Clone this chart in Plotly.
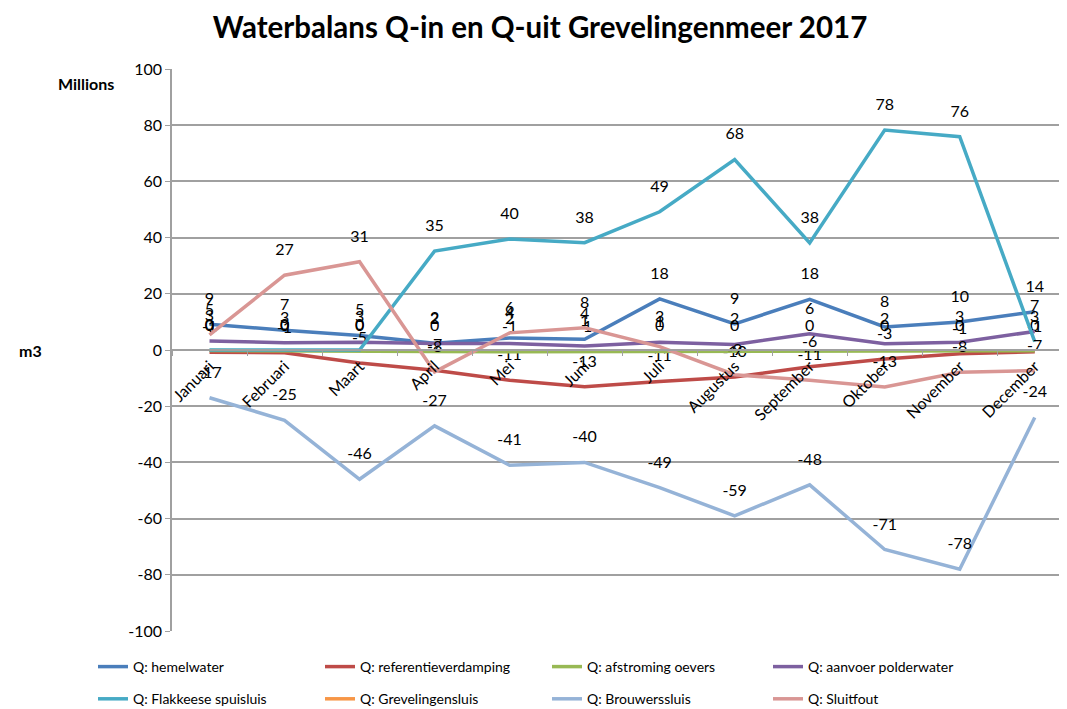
import plotly.graph_objects as go

months = ["Januari", "Februari", "Maart", "April", "Mei", "Juni", "Juli",
          "Augustus", "September", "Oktober", "November", "December"]

hemelwater = [9.2, 7.0, 5.2, 2.4, 4.3, 3.8, 18.2, 9.3, 18.0, 8.2, 10.0, 13.6]
referentieverdamping = [-0.8, -1.0, -4.6, -7.2, -10.8, -13.1, -11.2, -9.6, -6.0, -3.2, -1.3, -0.6]
afstroming_oevers = [-0.2, -0.2, -0.3, -0.5, -0.6, -0.6, -0.5, -0.5, -0.4, -0.4, -0.4, -0.3]
aanvoer_polderwater = [3.2, 2.6, 2.8, 2.3, 2.3, 1.4, 2.8, 2.0, 5.8, 2.2, 2.8, 6.6]
flakkeese_spuisluis = [0, 0, 0, 35.2, 39.5, 38.2, 49.2, 67.8, 38.1, 78.3, 75.9, 3.0]
grevelingensluis = [None] * 12
brouwerssluis = [-17, -25, -46, -27, -41, -40, -49, -59, -48, -71, -78, -24]
sluitfout = [5.4, 26.6, 31.4, -7.8, 6.1, 7.9, 1.2, -8.8, -10.8, -13.2, -7.9, -7.3]

y_tickvals = [-100, -80, -60, -40, -20, 0, 20, 40, 60, 80, 100]
y_ticktext = ["-100", "-80", "-60", "-40", "-20", "0", "20", "40", "60", "80", "100"]

series = [
    ("Q: hemelwater", hemelwater, "#4A7EBB", "legend"),
    ("Q: referentieverdamping", referentieverdamping, "#BE4B48", "legend2"),
    ("Q: afstroming oevers", afstroming_oevers, "#98B954", "legend3"),
    ("Q: aanvoer polderwater", aanvoer_polderwater, "#7D60A0", "legend4"),
    ("Q: Flakkeese spuisluis", flakkeese_spuisluis, "#46AAC5", "legend"),
    ("Q: Grevelingensluis", grevelingensluis, "#F79646", "legend2"),
    ("Q: Brouwerssluis", brouwerssluis, "#95B3D7", "legend3"),
    ("Q: Sluitfout", sluitfout, "#D99694", "legend4"),
]

FONT = "Lato"

# page has an 8px body margin: figure is drawn from (8, 8)
OFF = 8
W, H = 1067 - OFF, 709 - OFF
L, T = 172 - OFF, 69 - OFF
PH = 562
PW = W - L
B = H - T - PH

fig = go.Figure()
for i, (name, vals, color, leg) in enumerate(series):
    txt = [None if v is None else str(int(round(v))) for v in vals]
    fig.add_trace(go.Scatter(
        x=months, y=vals, name=name, mode="lines+markers+text",
        line=dict(color=color, width=3.5),
        marker=dict(size=24, color="rgba(0,0,0,0)"),
        text=txt, textposition="top center",
        textfont=dict(family=FONT, size=16, color="#000000"),
        legend=leg, legendgroup=f"g{i}", cliponaxis=False,
    ))

col_x = [93, 320, 547, 768]
leg_top = 651
legends = {}
for j, key in enumerate(["legend", "legend2", "legend3", "legend4"]):
    legends[key] = dict(
        orientation="v", x=(col_x[j] - 172) / PW, xanchor="left",
        y=-(leg_top - 631) / PH, yanchor="top",
        tracegroupgap=11, font=dict(family=FONT, size=14),
        bgcolor="rgba(0,0,0,0)", borderwidth=0,
    )

fig.update_layout(
    width=W, height=H,
    margin=dict(l=L, r=0, t=T, b=B, autoexpand=False),
    paper_bgcolor="white", plot_bgcolor="white",
    font=dict(family=FONT, size=15, color="#000000"),
    title=dict(text="<b>Waterbalans Q-in en Q-uit Grevelingenmeer 2017</b>",
               x=(540 - OFF) / W, xref="container", xanchor="center",
               y=1 - (28 - OFF) / H, yref="container", yanchor="middle",
               font=dict(family=FONT, size=29.5, color="#000000")),
    xaxis=dict(
        range=[-0.5, 11.43], anchor="free", position=0.5,
        showline=True, linecolor="#A0A0A0", linewidth=1.5,
        showgrid=False, zeroline=False,
        ticks="outside", tickson="boundaries", ticklen=5, tickcolor="#A0A0A0",
        tickangle=-45, tickfont=dict(family=FONT, size=16),
    ),
    yaxis=dict(
        range=[-100, 100], tickvals=y_tickvals, ticktext=y_ticktext,
        showline=True, linecolor="#A0A0A0", linewidth=1.5,
        showgrid=True, gridcolor="#A0A0A0", gridwidth=1.5,
        zeroline=False,
        ticks="outside", ticklen=5, tickcolor="#A0A0A0",
        tickfont=dict(family=FONT, size=16),
    ),
    annotations=[
        dict(text="<b>Millions</b>", xref="paper", yref="paper",
             x=(86 - 172) / PW, y=1 - (83 - 69) / PH,
             xanchor="center", yanchor="middle", showarrow=False,
             font=dict(family=FONT, size=16)),
        dict(text="<b>m3</b>", xref="paper", yref="paper",
             x=(30 - 172) / PW, y=0.5,
             xanchor="center", yanchor="middle", showarrow=False,
             font=dict(family=FONT, size=16)),
    ],
    **legends,
)

fig.write_html("out.html")
